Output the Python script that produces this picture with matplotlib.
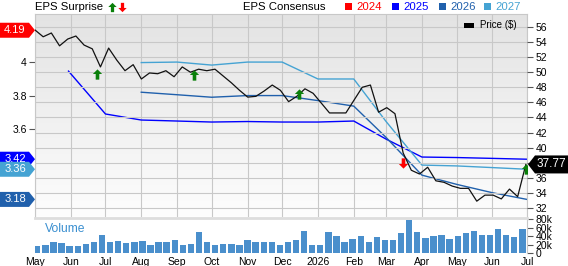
import matplotlib
matplotlib.use("Agg")
import matplotlib.pyplot as plt
import matplotlib.dates as mdates
from matplotlib.path import Path
from matplotlib.patches import Polygon, Rectangle
from matplotlib.colors import LinearSegmentedColormap
import numpy as np
import pandas as pd

plt.rcParams['font.family'] = ['Liberation Sans', 'DejaVu Sans']

# weekly closing price ($)
price = [55.6, 54.7, 55.2, 53.5, 54.4, 54.8, 53.6, 53.1, 50.7, 53.2,
         51.6, 50.2, 51.0, 49.1, 49.9, 49.8, 50.2, 49.4, 50.7, 50.0,
         50.4, 50.2, 50.4, 49.5, 48.6, 47.6, 46.7, 46.8, 47.5, 48.3,
         47.6, 46.1, 46.8, 47.8, 47.2, 45.9, 44.6, 44.6, 44.6, 46.3,
         48.0, 48.3, 44.7, 45.3, 44.5, 39.3, 37.0, 36.5, 37.4, 35.6,
         35.4, 34.9, 34.6, 34.6, 32.9, 33.7, 33.7, 33.2, 34.5, 33.5, 37.77]
price_dates = pd.date_range('2025-05-01', '2026-06-30', periods=len(price))

# weekly volume (thousands)
volume = [17, 20, 25, 23, 17, 16, 21, 25, 42, 27, 28, 24, 25, 28, 20, 25, 27, 30, 18, 21, 49,
          27, 18, 21, 21, 20, 30, 26, 25, 26, 18, 26, 30, 51, 18, 19, 50, 41, 25, 33, 41, 27,
          38, 30, 30, 46, 77, 50, 35, 40, 42, 33, 40, 46, 52, 42, 42, 57, 42, 38, 56, 52]
volume_dates = pd.date_range('2025-05-03', periods=len(volume), freq='7D')

# EPS consensus by fiscal year
eps25_dates = pd.to_datetime(['2025-05-30', '2025-07-01', '2025-08-01', '2025-09-01', '2025-10-01',
                              '2025-11-01', '2025-12-01', '2026-01-01', '2026-02-01', '2026-03-01',
                              '2026-04-01', '2026-05-01', '2026-06-01', '2026-07-01'])
eps25 = [3.946, 3.69, 3.654, 3.648, 3.642, 3.645, 3.642, 3.642, 3.648, 3.54, 3.433, 3.43, 3.425, 3.42]

eps_later_dates = pd.date_range('2025-08-01', '2026-07-01', freq='MS')
eps26 = [3.82, 3.805, 3.79, 3.80, 3.80, 3.77, 3.737, 3.55, 3.325, 3.27, 3.22, 3.18]
eps27 = [3.997, 4.0, 3.982, 4.0, 4.0, 3.899, 3.899, 3.645, 3.385, 3.38, 3.37, 3.36]
eps24_last = 4.19

# earnings surprises
surprise_dates = pd.to_datetime(['2025-06-24', '2025-09-16', '2025-12-16', '2026-03-16', '2026-06-30'])
surprise_level = [49.8, 49.6, 47.05, 37.96, 37.17]
surprise_up = [True, True, True, False, True]

month_starts = pd.date_range('2025-05-01', '2026-07-01', freq='MS')
month_labels = ['May', 'Jun', 'Jul', 'Aug', 'Sep', 'Oct', 'Nov', 'Dec', '2026',
                'Feb', 'Mar', 'Apr', 'May', 'Jun', 'Jul']
price_ticks = list(range(32, 57, 2))

C24, C25, C26, C27 = '#ff0000', '#0000ff', '#2060ac', '#45a3d3'
GRID = '#c8c8c8'

W, H = 568, 266


def rect(l, t, r, b):
    return [l / W, 1 - b / H, (r - l) / W, (b - t) / H]


fig = plt.figure(figsize=(W / 100, H / 100), dpi=100)

# gradient background of the price panel
bg = fig.add_axes(rect(35, 14, 527, 217), zorder=-1)
grad = np.linspace(0, 1, 200).reshape(-1, 1)
bg.imshow(grad, cmap=LinearSegmentedColormap.from_list('bg', ['#e3e3e3', '#fdfdfd']),
          aspect='auto', extent=[0, 1, 0, 1])
bg.axis('off')

ax_e = fig.add_axes(rect(35, 14, 527, 217))
ax_e.patch.set_visible(False)
ax_p = ax_e.twinx()
ax_v = fig.add_axes(rect(35, 218, 527, 253), sharex=ax_e)

xmin, xmax = pd.Timestamp('2025-05-01'), pd.Timestamp('2026-07-01')

# EPS lines
ax_e.plot(eps25_dates, eps25, color=C25, lw=1.0)
ax_e.plot(eps_later_dates, eps26, color=C26, lw=1.0)
ax_e.plot(eps_later_dates, eps27, color=C27, lw=1.0)
ax_e.set_ylim(3.075, 4.287)
ax_e.set_xlim(xmin, xmax)
ax_e.set_yticks([3.6, 3.8, 4.0])
ax_e.set_yticklabels(['3.6', '3.8', '4'])
ax_e.set_xticks(month_starts)
ax_e.grid(axis='x', color=GRID, lw=0.8)
ax_e.tick_params(axis='x', length=0, labelbottom=False)
ax_e.tick_params(axis='y', length=4, color='#555555', labelsize=7.5, pad=2)
for s in ['top', 'left', 'right']:
    ax_e.spines[s].set_color(GRID)
ax_e.spines['bottom'].set_visible(False)

# price line and surprise arrows
ax_p.plot(price_dates, price, color='#111111', lw=0.9, zorder=3)
up_arrow = Path([(0, 1), (-0.9, 0.1), (-0.35, 0.1), (-0.35, -1), (0.35, -1),
                 (0.35, 0.1), (0.9, 0.1), (0, 1)], closed=True)
down_arrow = Path([(x, -y) for x, y in up_arrow.vertices], closed=True)
for d, lv, up in zip(surprise_dates, surprise_level, surprise_up):
    ax_p.scatter([d], [lv], marker=up_arrow if up else down_arrow, s=55,
                 color='#0a800a' if up else '#ff0000', zorder=4, linewidths=0)
ax_p.set_ylim(30.8, 57.72)
ax_p.set_yticks(price_ticks)
# the 38 label sits under the last-price badge
ax_p.set_yticklabels(['' if t == 38 else str(t) for t in price_ticks])
ax_p.grid(axis='y', color=GRID, lw=0.8)
ax_p.set_axisbelow(True)
ax_p.tick_params(axis='y', length=4, color='#555555', labelsize=7.5, pad=2)
for s in ax_p.spines.values():
    s.set_visible(False)

# volume
ax_v.bar(volume_dates, volume, width=5.5, color='#4a8fcc')
ax_v.set_ylim(0, 82.4)
ax_v.set_xlim(xmin, xmax)
ax_v.yaxis.tick_right()
ax_v.set_yticks([0, 20, 40, 60, 80])
ax_v.set_yticklabels(['0', '20k', '40k', '60k', '80k'])
ax_v.tick_params(axis='y', length=4, color='#555555', labelsize=7.5, pad=2)
ax_v.set_xticks(month_starts)
ax_v.set_xticklabels(month_labels)
ax_v.tick_params(axis='x', length=0, labelsize=7.5, pad=3)
ax_v.spines['top'].set_color('#dddddd')
ax_v.spines['top'].set_linewidth(2)
ax_v.spines['right'].set_color(GRID)
ax_v.spines['left'].set_visible(False)
ax_v.spines['bottom'].set_visible(False)

# overlay in pixel coordinates for header and badges
ov = fig.add_axes([0, 0, 1, 1], zorder=10)
ov.set_xlim(0, W)
ov.set_ylim(H, 0)
ov.axis('off')
ov.patch.set_visible(False)


def ypx(ax, val):
    return H - ax.transData.transform((mdates.date2num(xmin), val))[1]


def badge_left(val, color):
    y = ypx(ax_e, val)
    ov.add_patch(Polygon([(0, y - 7.5), (29, y - 7.5), (35, y), (29, y + 7.5), (0, y + 7.5)],
                         closed=True, fc=color, ec='none'))
    ov.text(15, y, f'{val:.2f}', color='white', ha='center', va='center', fontsize=8)


badge_left(eps24_last, C24)
badge_left(eps25[-1], C25)
badge_left(eps27[-1], C27)
badge_left(eps26[-1], C26)

yp = ypx(ax_p, price[-1])
ov.add_patch(Polygon([(528, yp), (535, yp - 9), (568, yp - 9), (568, yp + 9), (535, yp + 9)],
                     closed=True, fc='black', ec='none'))
ov.text(551, yp, f'{price[-1]:.2f}', color='white', ha='center', va='center', fontsize=8.5)

# header
ov.text(35, 7, 'EPS Surprise', fontsize=8.2, va='center', ha='left')
ov.scatter([112], [6.5], marker=up_arrow, s=45, color='#0a800a', linewidths=0)
ov.scatter([122], [6.5], marker=down_arrow, s=45, color='#ff0000', linewidths=0)
ov.text(243, 7, 'EPS Consensus', fontsize=8.2, va='center', ha='left')
for x0, lab, col in [(345, '2024', C24), (392, '2025', C25), (439, '2026', C26), (484, '2027', C27)]:
    ov.add_patch(Rectangle((x0, 3), 7, 7, fc=col, ec='none'))
    ov.text(x0 + 11, 7, lab, color=col, fontsize=8.2, va='center', ha='left')

# price legend
ov.add_patch(Rectangle((464, 23), 10, 4.5, fc='black', ec='none'))
ov.text(480, 25.5, 'Price ($)', fontsize=7, va='center', ha='left')

# volume label
ov.text(45, 229, 'Volume', color='#3a8fd0', fontsize=8.7, va='center', ha='left')

fig.savefig('out.png', dpi=100)
